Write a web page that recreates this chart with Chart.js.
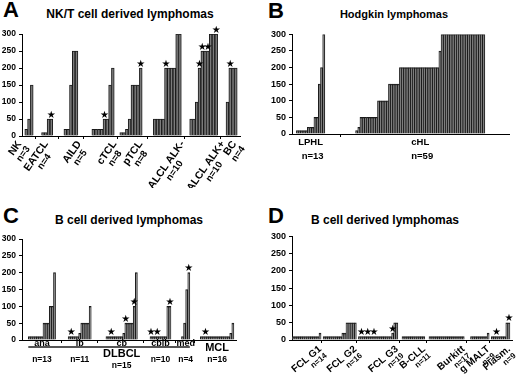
<!DOCTYPE html>
<html>
<head>
<meta charset="utf-8">
<script src="https://cdn.jsdelivr.net/npm/chart.js@4"></script>
<style>
  body { margin: 0; background: #fff; width: 520px; height: 376px; position: relative; overflow: hidden;
         font-family: 'Liberation Sans', Arial, sans-serif; font-weight: bold; color: #000; }
  .letter { position: absolute; font-size: 22px; line-height: 1; }
  .title { position: absolute; font-size: 12px; line-height: 1; white-space: nowrap; transform: translateX(-50%); }
  .panel { position: absolute; }
</style>
</head>
<body>
<div class="letter" style="left:3px;top:-1px">A</div>
<div class="title" style="left:130px;top:8px">NK/T cell derived lymphomas</div>
<div class="panel" style="left:0;top:26px;width:250px;height:162px"><canvas id="chartA"></canvas></div>

<div class="letter" style="left:268px;top:0px">B</div>
<div class="title" style="left:394px;top:9px;font-size:11px">Hodgkin lymphomas</div>
<div class="panel" style="left:260px;top:26px;width:260px;height:162px"><canvas id="chartB"></canvas></div>

<div class="letter" style="left:3px;top:205px">C</div>
<div class="title" style="left:129px;top:214px">B cell derived lymphomas</div>
<div class="panel" style="left:0;top:229px;width:250px;height:147px"><canvas id="chartC"></canvas></div>

<div class="letter" style="left:268px;top:205px">D</div>
<div class="title" style="left:385px;top:214px">B cell derived lymphomas</div>
<div class="panel" style="left:260px;top:228px;width:260px;height:148px"><canvas id="chartD"></canvas></div>

<script>
const FONT = "'Liberation Sans', Arial, sans-serif";

// A - NK/T cell derived lymphomas
const aGroups = ['NK', 'EATCL', 'AILD', 'cTCL', 'pTCL', 'ALCL ALK-', 'ALCL ALK+', 'BC'];
const aCounts = ['n=3', 'n=4', 'n=5', 'n=8', 'n=8', 'n=10', 'n=10', 'n=4'];
const aValues = [
    [20, 50, 150],
    [10, 10, 50, 50],
    [20, 20, 150, 250, 250],
    [20, 20, 20, 20, 50, 50, 150, 200],
    [10, 10, 20, 50, 150, 150, 150, 200],
    [50, 50, 50, 50, 200, 200, 200, 200, 300, 300],
    [50, 50, 100, 200, 250, 250, 250, 300, 300, 300],
    [100, 200, 200, 200]
];
const aStars = [[], [3], [], [4], [7], [4], [3, 4, 6, 9], [1]];

// B - Hodgkin lymphomas
const bGroups = ['LPHL', 'cHL'];
const bCounts = ['n=13', 'n=59'];
const bValues = [
    [10, 10, 10, 10, 10, 20, 20, 20, 50, 50, 150, 200, 300],
    [10, 20, 50, 50, 50, 50, 50, 50, 50, 50, 100, 100, 100, 100, 100,
     150, 150, 150, 150, 150,
     200, 200, 200, 200, 200, 200, 200, 200, 200, 200, 200, 200, 200, 200, 200, 200, 200, 200,
     250,
     300, 300, 300, 300, 300, 300, 300, 300, 300, 300, 300, 300, 300, 300, 300, 300, 300, 300, 300, 300]
];
const bStars = [[], []];

// C - B cell derived lymphomas (DLBCL subtypes + MCL)
const cGroups = ['ana', 'ib', 'cb', 'cbib', 'med', 'MCL'];
const cCounts = ['n=13', 'n=11', 'n=15', 'n=10', 'n=4', 'n=16'];
const cValues = [
    [10, 10, 10, 10, 10, 10, 10, 50, 50, 50, 100, 100, 200],
    [10, 10, 10, 10, 10, 20, 50, 50, 50, 50, 100],
    [10, 10, 10, 10, 10, 10, 10, 10, 20, 50, 50, 50, 50, 100, 200],
    [10, 10, 10, 10, 10, 10, 10, 10, 100, 100],
    [10, 50, 150, 200],
    [10, 10, 10, 10, 10, 10, 10, 10, 10, 10, 10, 10, 10, 10, 20, 50]
];
const cStars = [[], [1], [2, 9, 13], [0, 3, 9], [3], [2]];

// D - B cell derived lymphomas
const dGroups = ['FCL G1', 'FCL G2', 'FCL G3', 'B-CLL', 'Burkitt', 'g MALT', 'Plasm.'];
const dCounts = ['n=14', 'n=16', 'n=19', 'n=11', 'n=17', 'n=9', 'n=9'];
const dValues = [
    [10, 10, 10, 10, 10, 10, 10, 10, 10, 10, 10, 10, 10, 20],
    [10, 10, 10, 10, 10, 10, 10, 10, 10, 20, 20, 50, 50, 50, 50, 50],
    [10, 10, 10, 10, 10, 10, 10, 10, 10, 10, 10, 10, 10, 10, 10, 10, 20, 50, 50],
    [10, 10, 10, 10, 10, 10, 10, 10, 10, 10, 10],
    [10, 10, 10, 10, 10, 10, 10, 10, 10, 10, 10, 10, 10, 10, 10, 10, 10],
    [10, 10, 10, 10, 10, 10, 10, 10, 20],
    [10, 10, 10, 10, 10, 10, 10, 50, 50]
];
const dStars = [[], [], [1, 4, 7, 16], [], [], [], [2, 8]];

// layout: empty slots before, between and after the groups
const aGaps = [1, 3, 4, 5, 2, 4, 3, 3, 1];
const bGaps = [2, 14, 11];
const cGaps = [3, 6, 7, 6, 5, 5, 1];
const dGaps = [0, 1, 1, 2, 2, 3, 1, 1];
// layout: horizontal nudge of the rotated labels in panel A (px)
const aLabelShift = [-15, -8, 0, -1, -3, 0, 4, -4];

function buildSlots(values, gaps) {
    const data = [], spans = [], tickIdx = [];
    const pad = n => { for (let i = 0; i < n; i++) data.push(null); };
    pad(gaps[0]);
    values.forEach((grp, g) => {
        const start = data.length;
        grp.forEach(v => data.push(v));
        spans.push([start, data.length - 1]);
        const gap = gaps[g + 1];
        if (g < values.length - 1) tickIdx.push(data.length + Math.floor(gap / 2));
        pad(gap);
    });
    return { data, spans, tickIdx };
}

function makePanel(id, cfg) {
    const { data, spans, tickIdx } = buildSlots(cfg.values, cfg.gaps);
    const tickSet = new Set(tickIdx);
    return new Chart(document.getElementById(id), {
        type: 'bar',
        data: {
            labels: data.map((_, i) => i),
            datasets: [{
                data: data,
                backgroundColor: '#7c7c7c',
                borderColor: '#1a1a1a',
                borderWidth: 1,
                barPercentage: 1,
                categoryPercentage: 1
            }]
        },
        options: {
            responsive: true,
            maintainAspectRatio: false,
            animation: false,
            layout: { padding: { top: cfg.padTop, right: cfg.padRight, left: 0, bottom: 0 } },
            plugins: { legend: { display: false }, tooltip: { enabled: false } },
            scales: {
                x: {
                    ticks: { display: false },
                    grid: {
                        drawOnChartArea: false,
                        tickLength: 3,
                        color: c => tickSet.has(c.index) ? '#000' : 'rgba(0,0,0,0)'
                    },
                    border: { color: '#000', width: 1 },
                    afterFit: s => { s.height = cfg.xHeight; }
                },
                y: {
                    min: 0,
                    max: 300,
                    ticks: { stepSize: 50, color: '#000', padding: 3,
                             font: { family: FONT, size: cfg.yFont, weight: 'bold' } },
                    grid: { drawOnChartArea: false, tickLength: 3, color: '#000' },
                    border: { color: '#000', width: 1 },
                    afterFit: s => { s.width = cfg.yWidth; }
                }
            }
        },
        plugins: [{
            id: 'marks',
            afterDatasetsDraw(chart) {
                const ctx = chart.ctx;
                const meta = chart.getDatasetMeta(0);
                ctx.save();
                ctx.fillStyle = '#000';
                ctx.font = "10px 'DejaVu Sans'";
                ctx.textAlign = 'center';
                ctx.textBaseline = 'bottom';
                cfg.stars.forEach((list, g) => {
                    list.forEach(i => {
                        const el = meta.data[spans[g][0] + i];
                        ctx.fillText('\u2605', el.x, el.y + 1);
                    });
                });
                ctx.restore();
                ctx.save();
                ctx.fillStyle = '#000';
                cfg.drawLabels(ctx, chart, spans);
                ctx.restore();
            }
        }]
    });
}

function slotHalf(x) {
    return (x.getPixelForValue(1) - x.getPixelForValue(0)) / 2;
}

makePanel('chartA', {
    values: aValues, gaps: aGaps, stars: aStars,
    padTop: 7, padRight: 10, xHeight: 52, yWidth: 22, yFont: 8.5,
    drawLabels(ctx, chart, spans) {
        const x = chart.scales.x;
        const base = chart.scales.y.getPixelForValue(0);
        const half = slotHalf(x);
        aGroups.forEach((name, g) => {
            const end = x.getPixelForValue(spans[g][1]) + half;
            ctx.save();
            ctx.translate(end - 3 + aLabelShift[g], base + 3);
            ctx.rotate(-55 * Math.PI / 180);
            ctx.textAlign = 'center';
            ctx.textBaseline = 'top';
            ctx.font = 'bold 10.5px ' + FONT;
            const w = ctx.measureText(name).width;
            ctx.fillText(name, -w / 2, 0);
            ctx.font = 'bold 9.5px ' + FONT;
            ctx.fillText(aCounts[g], -w / 2, 10.5);
            ctx.restore();
        });
    }
});

makePanel('chartB', {
    values: bValues, gaps: bGaps, stars: bStars,
    padTop: 7, padRight: 11, xHeight: 54, yWidth: 32, yFont: 9,
    drawLabels(ctx, chart, spans) {
        const x = chart.scales.x;
        const base = chart.scales.y.getPixelForValue(0);
        ctx.textAlign = 'center';
        ctx.textBaseline = 'top';
        bGroups.forEach((name, g) => {
            const cx = (x.getPixelForValue(spans[g][0]) + x.getPixelForValue(spans[g][1])) / 2;
            ctx.font = 'bold 9.5px ' + FONT;
            ctx.fillText(name, cx, base + 4);
            ctx.fillText(bCounts[g], cx + 2, base + 18);
        });
    }
});

makePanel('chartC', {
    values: cValues, gaps: cGaps, stars: cStars,
    padTop: 10, padRight: 14, xHeight: 36, yWidth: 22, yFont: 8.5,
    drawLabels(ctx, chart, spans) {
        const x = chart.scales.x;
        const base = chart.scales.y.getPixelForValue(0);
        const half = slotHalf(x);
        const centre = g => (x.getPixelForValue(spans[g][0]) + x.getPixelForValue(spans[g][1])) / 2;
        // DLBCL bracket line under the first five groups
        ctx.fillStyle = '#555';
        const x0 = x.getPixelForValue(spans[0][0]) - half;
        const x1 = x.getPixelForValue(spans[4][1]) + half;
        ctx.fillRect(x0, base + 6, x1 - x0, 2);
        ctx.fillStyle = '#000';
        ctx.textAlign = 'center';
        ctx.textBaseline = 'middle';
        cGroups.forEach((name, g) => {
            const cx = centre(g);
            if (name === 'MCL') {
                ctx.font = 'bold 11px ' + FONT;
                ctx.fillText(name, cx, base + 8);
            } else {
                ctx.font = 'bold 9px ' + FONT;
                ctx.fillText(name, cx, base + 4);
            }
            ctx.font = 'bold 8.5px ' + FONT;
            ctx.fillText(cCounts[g], cx, g === 2 ? base + 26 : base + 20);
        });
        ctx.font = 'bold 11px ' + FONT;
        ctx.fillText('DLBCL', centre(2), base + 14);
    }
});

makePanel('chartD', {
    values: dValues, gaps: dGaps, stars: dStars,
    padTop: 8, padRight: 8, xHeight: 36, yWidth: 32, yFont: 9,
    drawLabels(ctx, chart, spans) {
        const x = chart.scales.x;
        const base = chart.scales.y.getPixelForValue(0);
        const half = slotHalf(x);
        dGroups.forEach((name, g) => {
            const end = x.getPixelForValue(spans[g][1]) + half;
            ctx.save();
            ctx.translate(end - 4, base + 4);
            ctx.rotate(-40 * Math.PI / 180);
            ctx.textAlign = 'right';
            ctx.textBaseline = 'top';
            ctx.font = 'bold 10px ' + FONT;
            ctx.fillText(name, 0, 0);
            ctx.font = 'bold 8px ' + FONT;
            ctx.fillText(dCounts[g], 0, 10);
            ctx.restore();
        });
    }
});
</script>
</body>
</html>
